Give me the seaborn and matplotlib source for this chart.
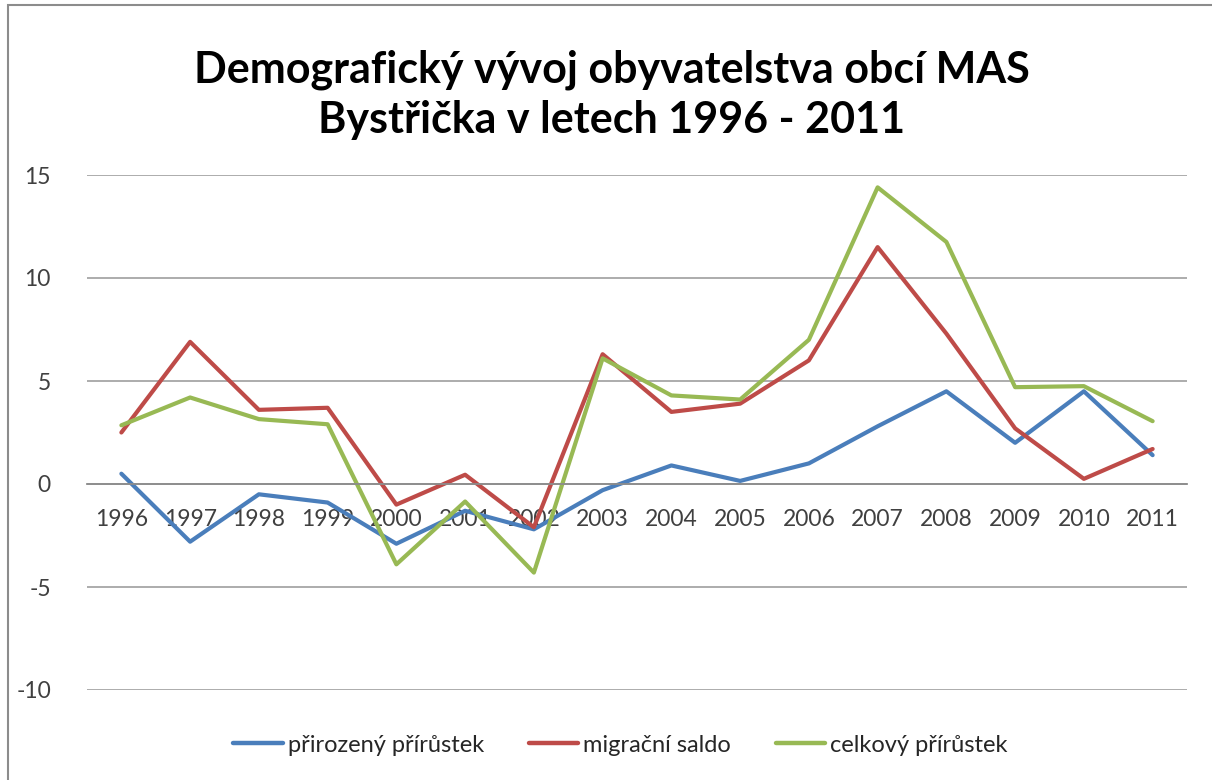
import numpy as np
import pandas as pd
import seaborn as sns
import matplotlib.pyplot as plt
from matplotlib.lines import Line2D
from matplotlib.patches import Rectangle

years = list(range(1996, 2012))
prirozeny = [0.5, -2.8, -0.5, -0.9, -2.9, -1.3, -2.2, -0.3, 0.9, 0.15, 1.0, 2.8, 4.5, 2.0, 4.5, 1.4]
migracni = [2.5, 6.9, 3.6, 3.7, -1.0, 0.45, -2.1, 6.3, 3.5, 3.9, 6.0, 11.5, 7.3, 2.7, 0.25, 1.7]
celkovy = [2.85, 4.2, 3.15, 2.9, -3.9, -0.85, -4.3, 6.1, 4.3, 4.1, 7.0, 14.4, 11.75, 4.7, 4.75, 3.05]
series_names = ["přirozený přírůstek", "migrační saldo", "celkový přírůstek"]
colors = ["#4A7EBB", "#BE4B48", "#98B954"]
title = "Demografický vývoj obyvatelstva obcí MAS\nBystřička v letech 1996 - 2011"
yticks = [-10, -5, 0, 5, 10, 15]

df = pd.DataFrame({
    "rok": years * 3,
    "hodnota": prirozeny + migracni + celkovy,
    "ukazatel": [series_names[0]] * 16 + [series_names[1]] * 16 + [series_names[2]] * 16,
})

sns.set_theme(style="white")
plt.rcParams['font.family'] = ['Lato', 'DejaVu Sans']

fig = plt.figure(figsize=(12.12, 7.8), dpi=100)
ax = fig.add_axes([87/1212, 1 - 690/780, 1100/1212, 515/780])

sns.lineplot(data=df, x="rok", y="hodnota", hue="ukazatel", palette=colors,
             hue_order=series_names, linewidth=3.0, ax=ax, legend=False, sort=False)

ax.set_xlim(1995.5, 2011.5)
ax.set_ylim(-10, 15)
ax.set_yticks(yticks)
ax.set_yticklabels([str(v) for v in yticks])
ax.yaxis.grid(True, color="#A6A6A6", linewidth=1.3)
ax.set_axisbelow(True)
for s in ["top", "right", "left"]:
    ax.spines[s].set_visible(False)
ax.spines["bottom"].set_position(("data", 0))
ax.spines["bottom"].set_color("#8C8C8C")
ax.spines["bottom"].set_linewidth(1.3)
ax.set_xticks(years)
ax.set_xticklabels([str(y) for y in years])
ax.set_xticks([y + 0.5 for y in [1995] + years], minor=True)
ax.tick_params(axis="x", which="major", length=0, labelsize=16.5, labelcolor="#404040", pad=18)
ax.tick_params(axis="x", which="minor", length=8, direction="in", color="#8C8C8C", width=1.2)
ax.tick_params(axis="y", length=0, labelsize=16.5, labelcolor="#404040", pad=26)
ax.set_xlabel("")
ax.set_ylabel("")

fig.text(0.505, 1 - 95/780, title, ha="center", va="center", fontsize=31,
         fontweight="bold", color="black", linespacing=1.3)

handles = [Line2D([0], [0], color=c, linewidth=3.2) for c in colors]
fig.legend(handles, series_names, loc="center", bbox_to_anchor=(0.512, 1 - 745/780),
           ncol=3, frameon=False, fontsize=17, handlelength=2.1, handletextpad=0.2,
           columnspacing=1.9)

fig.patches.append(Rectangle((8/1212, -0.1), 1.2, 1 - 5/780 + 0.1, transform=fig.transFigure,
                             fill=False, edgecolor="#8C8C8C", linewidth=1.5))

fig.savefig("out.png", dpi=100)
